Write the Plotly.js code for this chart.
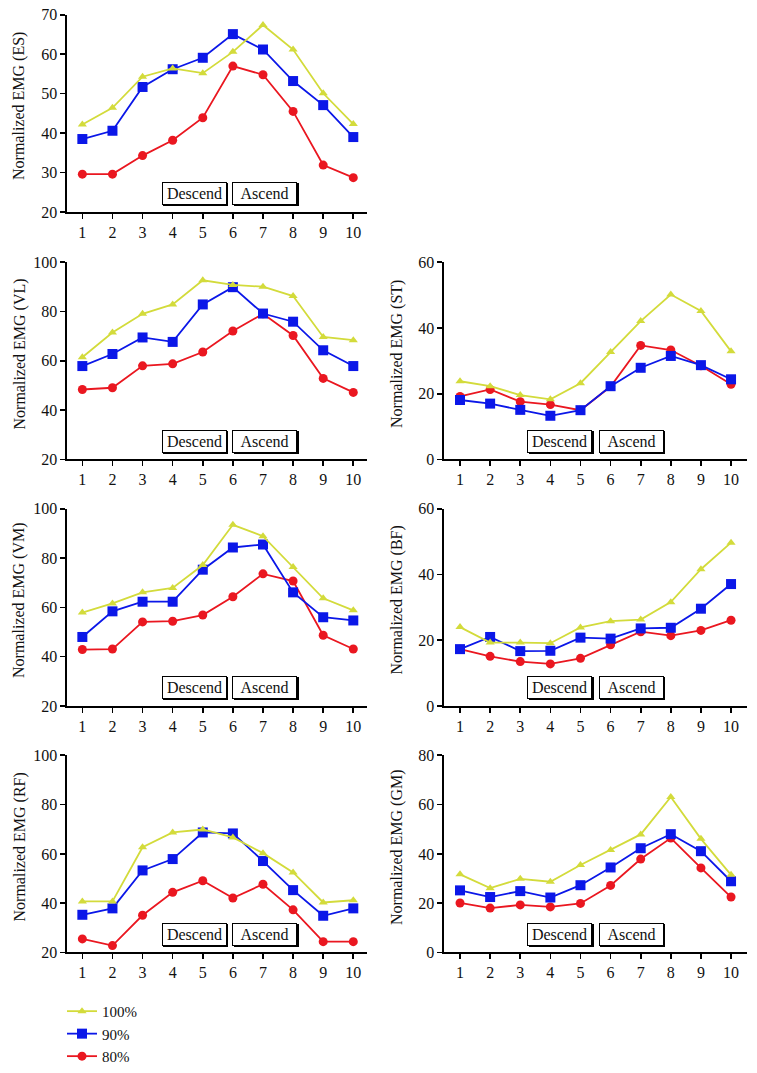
<!DOCTYPE html>
<html>
<head>
<meta charset="utf-8">
<script src="https://cdn.plot.ly/plotly-3.0.1.min.js"></script>
<style>html,body{margin:0;padding:0;background:#fff;}#chart{width:757px;height:1073px;}</style>
</head>
<body>
<div id="chart"></div>
<script>
// ---- data ----
const positions = [1, 2, 3, 4, 5, 6, 7, 8, 9, 10];
const seriesNames = ['100%', '90%', '80%'];
const muscles = ['ES', 'VL', 'ST', 'VM', 'BF', 'RF', 'GM'];
const phaseLabels = ['Descend', 'Ascend'];

const es100 = [42.2, 46.4, 54.3, 56.4, 55.2, 60.6, 67.4, 61.2, 50.1, 42.3];
const es90  = [38.5, 40.6, 51.7, 56.2, 59.1, 65.1, 61.2, 53.2, 47.1, 39.0];
const es80  = [29.6, 29.6, 34.3, 38.2, 43.9, 57.0, 54.8, 45.5, 31.9, 28.7];

const vl100 = [61.5, 71.5, 79.1, 82.9, 92.7, 90.8, 90.1, 86.3, 69.7, 68.4];
const vl90  = [57.9, 62.8, 69.5, 67.7, 82.9, 89.9, 79.2, 75.9, 64.3, 57.9];
const vl80  = [48.4, 49.1, 58.0, 58.8, 63.6, 72.1, 79.1, 70.3, 52.9, 47.2];

const st100 = [23.8, 22.3, 19.6, 18.3, 23.2, 32.7, 42.1, 50.2, 45.2, 32.9];
const st90  = [18.1, 17.0, 15.1, 13.3, 15.0, 22.3, 27.9, 31.5, 28.7, 24.4];
const st80  = [19.2, 21.3, 17.6, 16.7, 15.0, 22.2, 34.7, 33.3, 28.5, 22.9];

const vm100 = [57.9, 61.6, 66.1, 67.9, 77.2, 93.5, 88.9, 76.4, 63.7, 58.8];
const vm90  = [48.0, 58.4, 62.3, 62.3, 75.3, 84.3, 85.5, 66.1, 56.0, 54.7];
const vm80  = [42.9, 43.1, 54.1, 54.4, 56.9, 64.3, 73.6, 70.7, 48.7, 43.1];

const bf100 = [24.0, 19.3, 19.3, 19.1, 23.9, 25.8, 26.3, 31.6, 41.6, 49.7];
const bf90  = [17.3, 21.0, 16.7, 16.8, 20.8, 20.5, 23.6, 23.8, 29.6, 37.1];
const bf80  = [17.3, 15.1, 13.5, 12.8, 14.5, 18.6, 22.6, 21.4, 23.0, 26.1];

const rf100 = [40.7, 40.7, 62.7, 68.7, 69.9, 66.7, 60.3, 52.5, 40.3, 41.2];
const rf90  = [35.3, 37.9, 53.3, 57.9, 68.7, 68.3, 57.1, 45.3, 34.9, 37.9];
const rf80  = [25.5, 22.8, 35.1, 44.4, 49.1, 42.1, 47.7, 37.3, 24.4, 24.4];

const gm100 = [31.7, 26.1, 29.9, 28.7, 35.5, 41.6, 47.9, 63.1, 46.1, 31.5];
const gm90  = [25.2, 22.5, 24.9, 22.3, 27.3, 34.5, 42.3, 48.0, 41.1, 28.9];
const gm80  = [20.1, 18.0, 19.3, 18.5, 19.9, 27.2, 37.9, 46.4, 34.3, 22.5];

const yTicksES = [20, 30, 40, 50, 60, 70];
const yTicks20to100 = [20, 40, 60, 80, 100];
const yTicks0to60 = [0, 20, 40, 60];
const yTicks0to80 = [0, 20, 40, 60, 80];

// ---- styling ----
const W = 757, H = 1073;
const FONT = 'Liberation Serif, Times New Roman, serif';
const colors = ['#d3db3b', '#0b17e8', '#ea1720'];
const symbols = ['triangle-up', 'square', 'circle'];
const msizes = [8, 10, 9];

const panelData = {
  ES: [es100, es90, es80], VL: [vl100, vl90, vl80], ST: [st100, st90, st80],
  VM: [vm100, vm90, vm80], BF: [bf100, bf90, bf80], RF: [rf100, rf90, rf80], GM: [gm100, gm90, gm80]
};
const panelTicks = {
  ES: yTicksES, VL: yTicks20to100, ST: yTicks0to60, VM: yTicks20to100,
  BF: yTicks0to60, RF: yTicks20to100, GM: yTicks0to80
};
// grid placement: [col,row]
const place = { ES: [0, 0], VL: [0, 1], ST: [1, 1], VM: [0, 2], BF: [1, 2], RF: [0, 3], GM: [1, 3] };
const colPx = [[67, 367], [444, 747]];
const colRange = [[0.49, 10.455], [0.468, 10.53]];
const titleXPx = [19.5, 397];
const phaseX = [[4.72, 7.06], [4.31, 6.68]];
const rowPx = [[15, 215], [266, 466], [516, 716], [766, 966]];

const traces = [];
const layout = {
  width: W, height: H,
  margin: { l: 0, r: 0, t: 0, b: 0 },
  paper_bgcolor: '#fff', plot_bgcolor: '#fff',
  font: { family: FONT, color: '#111', size: 15 },
  showlegend: true,
  legend: {
    x: 62 / W, xanchor: 'left', y: 1 - 1009 / H, yanchor: 'top',
    traceorder: 'reversed', font: { family: FONT, size: 15, color: '#111' },
    bgcolor: 'rgba(0,0,0,0)', itemwidth: 30, tracegroupgap: 0
  },
  annotations: [], shapes: []
};

muscles.forEach((m, i) => {
  const n = i + 1;
  const xa = 'x' + (n === 1 ? '' : n), ya = 'y' + (n === 1 ? '' : n);
  const [c, r] = place[m];
  const ticks = panelTicks[m];
  // draw red, blue, yellow order (yellow on top)
  [2, 1, 0].forEach(s => {
    traces.push({
      x: positions, y: panelData[m][s], xaxis: xa, yaxis: ya,
      type: 'scatter', mode: 'lines+markers', name: seriesNames[s],
      legendgroup: seriesNames[s], showlegend: i === 0,
      line: { color: colors[s], width: 1.8 },
      marker: { color: colors[s], symbol: symbols[s], size: msizes[s] },
      cliponaxis: false, hoverinfo: 'skip'
    });
  });
  const axX = {
    domain: [colPx[c][0] / W, colPx[c][1] / W], range: colRange[c], anchor: ya,
    showline: true, linecolor: '#000', linewidth: 1.6, mirror: false,
    ticks: 'outside', ticklen: 5, tickwidth: 1.6, tickcolor: '#000',
    tickmode: 'array', tickvals: positions, ticktext: positions.map(String),
    showgrid: false, zeroline: false, fixedrange: true,
    tickfont: { family: FONT, size: 16, color: '#111' }
  };
  const axY = {
    domain: [1 - rowPx[r][1] / H, 1 - rowPx[r][0] / H],
    range: [ticks[0], ticks[ticks.length - 1]], anchor: xa,
    showline: true, linecolor: '#000', linewidth: 1.6,
    ticks: 'outside', ticklen: 5, tickwidth: 1.6, tickcolor: '#000',
    tickmode: 'array', tickvals: ticks,
    showgrid: false, zeroline: false, fixedrange: true,
    tickfont: { family: FONT, size: 16, color: '#111' }
  };
  layout['xaxis' + (n === 1 ? '' : n)] = axX;
  layout['yaxis' + (n === 1 ? '' : n)] = axY;
  // y-axis title as rotated annotation
  layout.annotations.push({
    text: 'Normalized EMG (' + m + ')', textangle: -90, showarrow: false,
    xref: 'paper', yref: 'paper', x: titleXPx[c] / W, xanchor: 'center',
    y: 1 - ((rowPx[r][0] + rowPx[r][1]) / 2 - 7) / H, yanchor: 'middle',
    font: { family: FONT, size: 16, color: '#111' }
  });
  phaseLabels.forEach((lab, k) => {
    const base = {
      x: phaseX[c][k], xref: xa, y: 0.093, yref: ya + ' domain',
      xanchor: 'center', yanchor: 'middle', showarrow: false, text: lab,
      width: 61, height: 19, borderpad: 1, borderwidth: 1,
      font: { family: FONT, size: 16, color: '#111' }
    };
    layout.annotations.push(Object.assign({}, base, { bordercolor: '#000', bgcolor: '#000', xshift: 1.3, yshift: -1.3, font: { family: FONT, size: 16, color: '#000' } }));
    layout.annotations.push(Object.assign({}, base, { bordercolor: '#000', bgcolor: '#fff' }));
  });
});

Plotly.newPlot('chart', traces, layout, { displayModeBar: false, staticPlot: true });
</script>
</body>
</html>
